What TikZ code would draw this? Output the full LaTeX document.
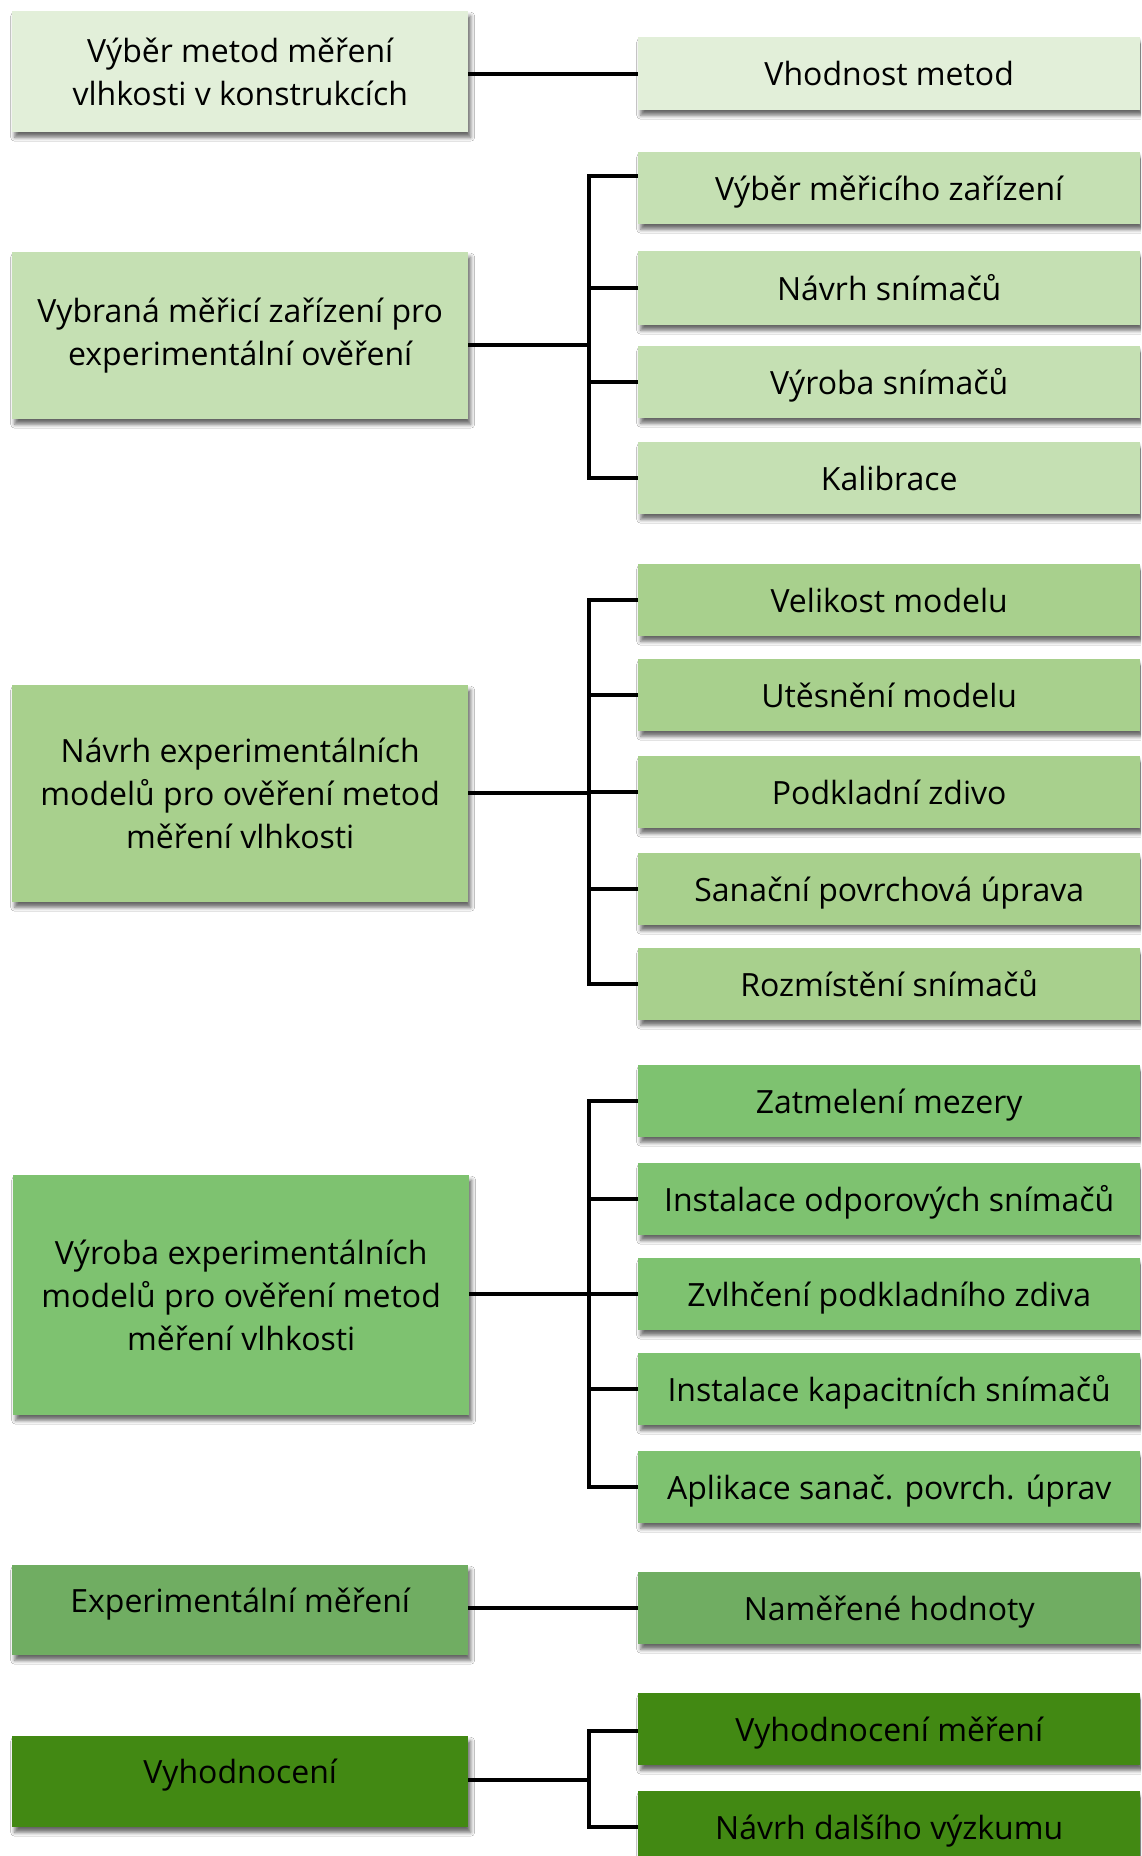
\documentclass[tikz,border=0pt]{standalone}
\usepackage{fontspec}
\setmainfont{Open Sans}
\usetikzlibrary{shadows.blur}
\definecolor{ga}{HTML}{E2EFD9}
\definecolor{gb}{HTML}{C5E0B3}
\definecolor{gc}{HTML}{A8D08D}
\definecolor{gd}{HTML}{7EC270}
\definecolor{ge}{HTML}{70AD62}
\definecolor{gf}{HTML}{428913}
\begin{document}
\begin{tikzpicture}[x=1pt,y=-1pt,
  box/.style={draw=none, inner sep=0pt, anchor=north west, align=center,
    font=\fontsize{32}{43}\selectfont,
    blur shadow={shadow xshift=2.5pt,shadow yshift=-5pt,shadow blur radius=4pt,shadow opacity=60}},
  oneline/.style={text height=24pt, text depth=0pt},
  lbox/.style={box, minimum width=456pt},
  rbox/.style={box, oneline, minimum width=502pt, minimum height=72pt},
  conn/.style={line width=4pt, black}]
\useasboundingbox (0,0) rectangle (1141,1856);
\fill[white] (0,0) rectangle (1141,1856);
\clip (0,0) rectangle (1141,1856);

% group 1
\node[lbox, fill=ga, minimum height=121pt] (l1) at (12,11) {Výběr metod měření\\vlhkosti v konstrukcích};
\node[rbox, fill=ga, minimum height=73pt] (r11) at (638,37) {Vhodnost metod};

% group 2
\node[lbox, fill=gb, minimum height=167pt] (l2) at (12,252) {Vybraná měřicí zařízení pro\\experimentální ověření};
\node[rbox, fill=gb] (r21) at (638,152) {Výběr měřicího zařízení};
\node[rbox, fill=gb, minimum height=74pt] (r22) at (638,251) {Návrh snímačů};
\node[rbox, fill=gb] (r23) at (638,346) {Výroba snímačů};
\node[rbox, fill=gb] (r24) at (638,442) {Kalibrace};

% group 3
\node[lbox, fill=gc, minimum height=217pt] (l3) at (12,685) {Návrh experimentálních\\modelů pro ověření metod\\měření vlhkosti};
\node[rbox, fill=gc] (r31) at (638,564) {Velikost modelu};
\node[rbox, fill=gc] (r32) at (638,659) {Utěsnění modelu};
\node[rbox, fill=gc] (r33) at (638,756) {Podkladní zdivo};
\node[rbox, fill=gc] (r34) at (638,853) {Sanační povrchová úprava};
\node[rbox, fill=gc] (r35) at (638,948) {Rozmístění snímačů};

% group 4
\node[lbox, fill=gd, minimum height=240pt] (l4) at (13,1175) {Výroba experimentálních\\modelů pro ověření metod\\měření vlhkosti};
\node[rbox, fill=gd] (r41) at (638,1065) {Zatmelení mezery};
\node[rbox, fill=gd] (r42) at (638,1163) {Instalace odporových snímačů};
\node[rbox, fill=gd] (r43) at (638,1258) {Zvlhčení podkladního zdiva};
\node[rbox, fill=gd] (r44) at (638,1353) {Instalace kapacitních snímačů};
\node[rbox, fill=gd] (r45) at (638,1451) {Aplikace sanač. povrch. úprav};

% group 5
\node[lbox, fill=ge, minimum height=90pt, text height=24pt, text depth=20pt] (l5) at (12,1565) {Experimentální měření};
\node[rbox, fill=ge] (r51) at (638,1572) {Naměřené hodnoty};

% group 6
\node[lbox, fill=gf, minimum height=91pt, text height=24pt, text depth=20pt] (l6) at (12,1736) {Vyhodnocení};
\node[rbox, fill=gf] (r61) at (638,1693) {Vyhodnocení měření};
\node[rbox, fill=gf] (r62) at (638,1791) {Návrh dalšího výzkumu};

% connectors
\draw[conn] (r11.west -| l1.east) -- (r11.west);

\coordinate (b2) at (589,345);
\draw[conn] (b2 -| l2.east) -- (b2);
\draw[conn] ([yshift=12pt]r21.west) -| (b2 |- r24.west) -- (r24.west);
\draw[conn] (r22.west) -- (b2 |- r22.west);
\draw[conn] (r23.west) -- (b2 |- r23.west);

\coordinate (b3) at (589,793);
\draw[conn] (b3 -| l3.east) -- (b3);
\draw[conn] (r31.west) -| (b3 |- r35.west) -- (r35.west);
\draw[conn] (r32.west) -- (b3 |- r32.west);
\draw[conn] (r33.west) -- (b3 |- r33.west);
\draw[conn] (r34.west) -- (b3 |- r34.west);

\coordinate (b4) at (589,1294);
\draw[conn] (b4 -| l4.east) -- (b4);
\draw[conn] (r41.west) -| (b4 |- r45.west) -- (r45.west);
\draw[conn] (r42.west) -- (b4 |- r42.west);
\draw[conn] (r43.west) -- (b4 |- r43.west);
\draw[conn] (r44.west) -- (b4 |- r44.west);

\draw[conn] (r51.west -| l5.east) -- (r51.west);

\coordinate (b6) at (589,1780);
\draw[conn] (b6 -| l6.east) -- (b6);
\draw[conn] ([yshift=-2pt]r61.west) -| (b6 |- r62.west) -- (r62.west);
\end{tikzpicture}
\end{document}
